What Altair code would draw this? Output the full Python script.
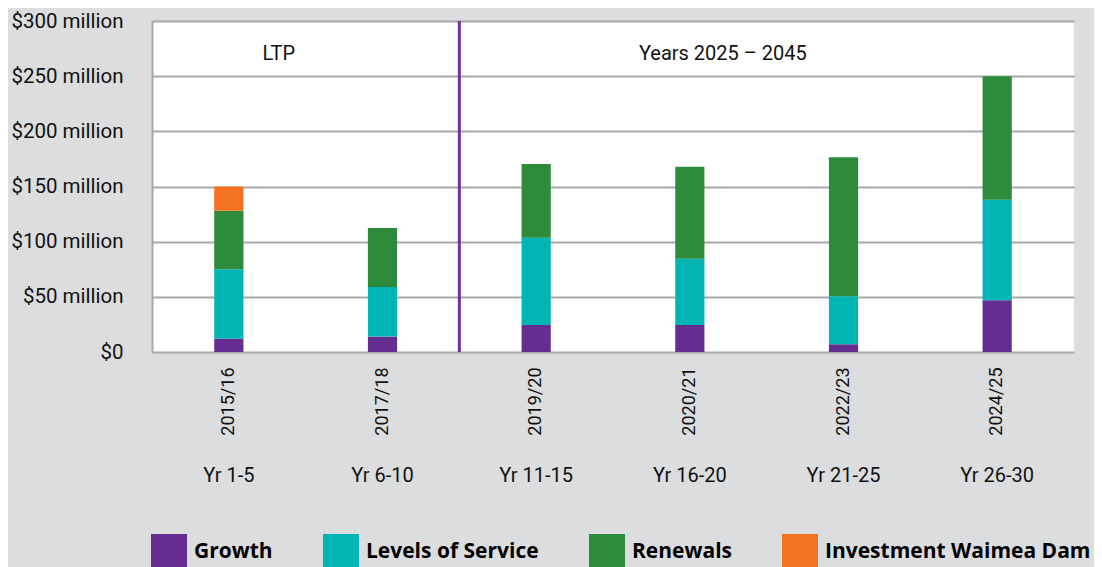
import altair as alt
import pandas as pd

periods = ["2015/16", "2017/18", "2019/20", "2020/21", "2022/23", "2024/25"]
yr_labels = ["Yr 1-5", "Yr 6-10", "Yr 11-15", "Yr 16-20", "Yr 21-25", "Yr 26-30"]
series = ["Growth", "Levels of Service", "Renewals", "Investment Waimea Dam"]
colors = ["#662d91", "#00b5b4", "#2e8b3b", "#f37321"]
growth = [12, 14, 24.5, 24.5, 7, 47]
levels_of_service = [63, 45, 79, 60, 43.5, 91]
renewals = [53, 53.5, 67, 83.5, 126, 112]
waimea_dam = [22, 0, 0, 0, 0, 0]
y_ticks = [0, 50, 100, 150, 200, 250, 300]
region_labels = ["LTP", "Years 2025 \u2013 2045"]
region_anchor = ["2015/16", "2020/21"]
region_shift = [50, 33]
divider_at = ["2019/20"]

rows = []
for i, p in enumerate(periods):
    for k, (name, vals) in enumerate(zip(series, [growth, levels_of_service, renewals, waimea_dam])):
        if vals[i] > 0:
            rows.append({"period": p, "series": name, "value": vals[i], "order": k})
df = pd.DataFrame(rows)

W, H = 922, 331
FONT = "Roboto"

xscale = alt.Scale(domain=periods, paddingInner=0, paddingOuter=0)

bars = alt.Chart(df).mark_bar(width={"band": 0.19}).encode(
    x=alt.X("period:N", scale=xscale, sort=periods,
            axis=alt.Axis(title=None, labelAngle=-90, labelFont=FONT, labelFontSize=18,
                          labelColor="#111111", labelPadding=15, ticks=False, domain=False,
                          grid=False)),
    y=alt.Y("value:Q", stack="zero", scale=alt.Scale(domain=[0, 300], nice=False),
            axis=alt.Axis(title=None, values=y_ticks, labelFont=FONT, labelFontSize=20.5,
                          labelColor="#111111", labelPadding=29, ticks=False,
                          domainColor="#a8a8a8", domainWidth=2,
                          gridColor="#a8a8a8", gridWidth=2,
                          labelExpr="datum.value == 0 ? '$0' : '$' + datum.value + ' million'")),
    color=alt.Color("series:N", scale=alt.Scale(domain=series, range=colors),
                    legend=alt.Legend(title=None, orient="none", legendX=-1, legendY=513,
                                      direction="horizontal", columns=4, symbolType="square",
                                      symbolSize=1296, symbolStrokeWidth=0, symbolOpacity=1,
                                      labelFont="Open Sans", labelFontWeight="bold",
                                      labelFontSize=21, labelColor="#000000", labelOffset=7,
                                      columnPadding=50, padding=0, labelLimit=400)),
    order=alt.Order("order:Q", sort="ascending"),
)

yr_df = pd.DataFrame({"period": periods, "label": yr_labels})
yr_text = alt.Chart(yr_df).mark_text(font=FONT, fontSize=20, color="#111111",
                                     baseline="middle", align="center").encode(
    x=alt.X("period:N", scale=xscale, sort=periods),
    y=alt.value(455),
    text="label:N",
)

reg_layers = []
for lab, anc, sh in zip(region_labels, region_anchor, region_shift):
    rdf = pd.DataFrame({"period": [anc], "label": [lab]})
    reg_layers.append(
        alt.Chart(rdf).mark_text(font=FONT, fontSize=20, color="#111111",
                                 baseline="middle", align="center", dx=sh).encode(
            x=alt.X("period:N", scale=xscale, sort=periods),
            y=alt.value(33),
            text="label:N",
        )
    )

div_df = pd.DataFrame({"period": divider_at})
divider = alt.Chart(div_df).mark_rule(color="#7030a0", strokeWidth=3).encode(
    x=alt.X("period:N", scale=xscale, sort=periods, bandPosition=0),
    y=alt.value(0),
    y2=alt.value(H),
)

chart = alt.layer(bars, divider, *reg_layers, yr_text).properties(
    width=W, height=H,
    background="#dcdddf",
    autosize=alt.AutoSizeParams(type="none"),
    padding={"left": 144, "top": 13, "right": 20, "bottom": 215},
).configure_view(fill="white", stroke=None)

chart.save("out.html", embed_options={"renderer": "svg", "actions": False})
